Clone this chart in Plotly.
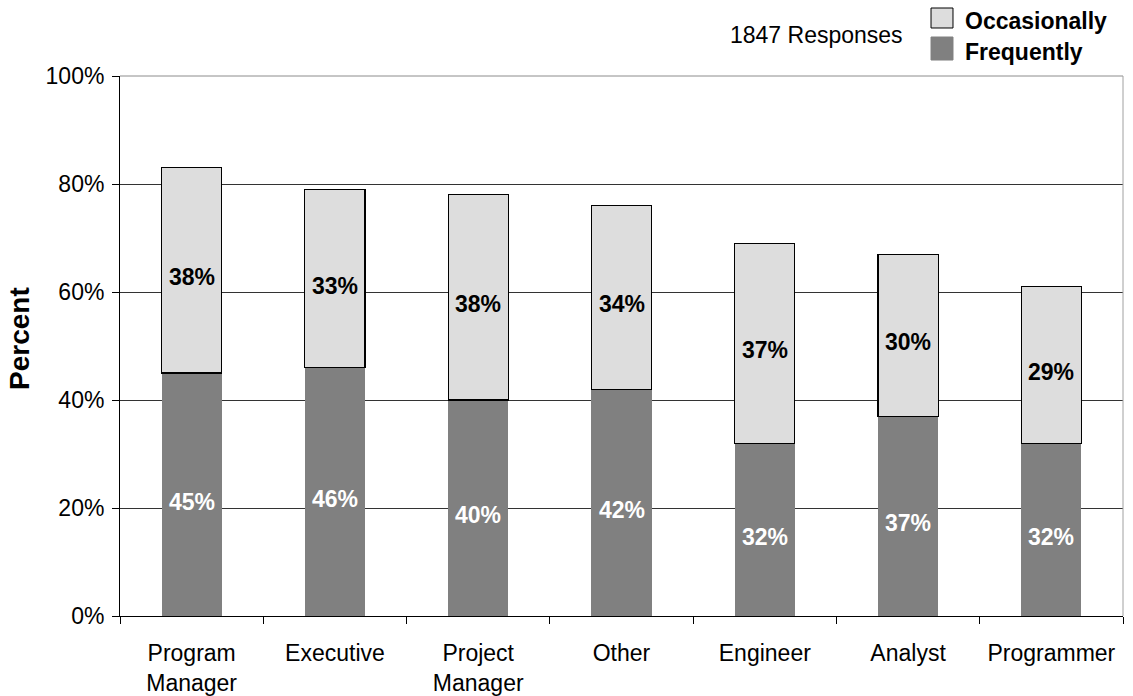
import plotly.graph_objects as go

roles = ["Program<br>Manager", "Executive", "Project<br>Manager", "Other",
         "Engineer", "Analyst", "Programmer"]
frequently = [45, 46, 40, 42, 32, 37, 32]
occasionally = [38, 33, 38, 34, 37, 30, 29]
y_ticks = [0, 20, 40, 60, 80, 100]
y_tick_labels = [f"{v}%" for v in y_ticks]
series_names = ["Occasionally", "Frequently"]
series_colors = ["#dddddd", "#808080"]
response_note = "1847 Responses"

FONT = "Liberation Sans, Arial, sans-serif"
FS = 23

fig = go.Figure()
fig.add_trace(go.Bar(
    name="Frequently", x=roles, y=frequently, showlegend=False,
    marker=dict(color="#808080", line=dict(width=0)),
))
fig.add_trace(go.Bar(
    name="Occasionally", x=roles, y=occasionally, showlegend=False,
    marker=dict(color="#dddddd", line=dict(width=1.2, color="black")),
))

shapes = [
    dict(type="line", xref="paper", yref="paper", x0=0, x1=1, y0=1, y1=1,
         line=dict(color="#8c8c8c", width=1), layer="above"),
    dict(type="line", xref="paper", yref="paper", x0=1, x1=1, y0=0, y1=1,
         line=dict(color="#a0a0a0", width=1), layer="above"),
]
annotations = [
    dict(text=response_note, xref="paper", yref="paper",
         x=0.694, y=1.076, xanchor="center", yanchor="middle",
         showarrow=False, font=dict(family=FONT, size=FS, color="black")),
    dict(text="<b>Percent</b>", xref="paper", yref="paper",
         x=-0.0997, y=0.513, xanchor="center", yanchor="middle",
         textangle=-90, showarrow=False,
         font=dict(family=FONT, size=28, color="black")),
]

# Value labels sit a little below the middle of each segment
for role, f, o in zip(roles, frequently, occasionally):
    annotations.append(dict(
        text=f"<b>{f}%</b>", x=role, y=f / 2, xref="x", yref="y",
        yshift=-7, showarrow=False,
        font=dict(family=FONT, size=FS, color="white"),
    ))
    annotations.append(dict(
        text=f"<b>{o}%</b>", x=role, y=f + o / 2, xref="x", yref="y",
        yshift=-7, showarrow=False,
        font=dict(family=FONT, size=FS, color="black"),
    ))

# Legend swatches and labels above the plot's top-right corner
legend_rows = [(1.1259, 1.0889), (1.0722, 1.0296)]
for name, color, (top, bottom) in zip(series_names, series_colors, legend_rows):
    shapes.append(dict(
        type="rect", xref="paper", yref="paper",
        x0=0.8086, x1=0.8305, y0=bottom, y1=top,
        fillcolor=color,
        line=dict(color="black" if name == "Occasionally" else color, width=1),
    ))
    annotations.append(dict(
        text=f"<b>{name}</b>", xref="paper", yref="paper",
        x=0.8405, y=(top + bottom) / 2 - 0.006, xanchor="left", yanchor="middle",
        showarrow=False, font=dict(family=FONT, size=FS, color="black"),
    ))

fig.update_layout(
    barmode="stack", bargap=0.58,
    width=1133, height=696,
    margin=dict(l=120, r=10, t=76, b=80, autoexpand=False),
    paper_bgcolor="white", plot_bgcolor="white",
    font=dict(family=FONT, size=FS, color="black"),
    showlegend=False,
    shapes=shapes,
    annotations=annotations,
)

fig.update_xaxes(
    showline=True, linecolor="black", linewidth=1,
    ticks="outside", tickson="boundaries", ticklen=7, tickcolor="black",
    ticklabelstandoff=16,
    tickfont=dict(family=FONT, size=FS, color="black"),
    showgrid=False, automargin=False,
)
fig.update_yaxes(
    range=[0, 100], tickvals=y_ticks, ticktext=y_tick_labels,
    showline=True, linecolor="black", linewidth=1,
    ticks="outside", ticklen=7, tickcolor="black", ticklabelstandoff=3,
    tickfont=dict(family=FONT, size=FS, color="black"),
    showgrid=True, gridcolor="#333333", gridwidth=1, zeroline=False,
    automargin=False,
)

fig.write_html("out.html")
